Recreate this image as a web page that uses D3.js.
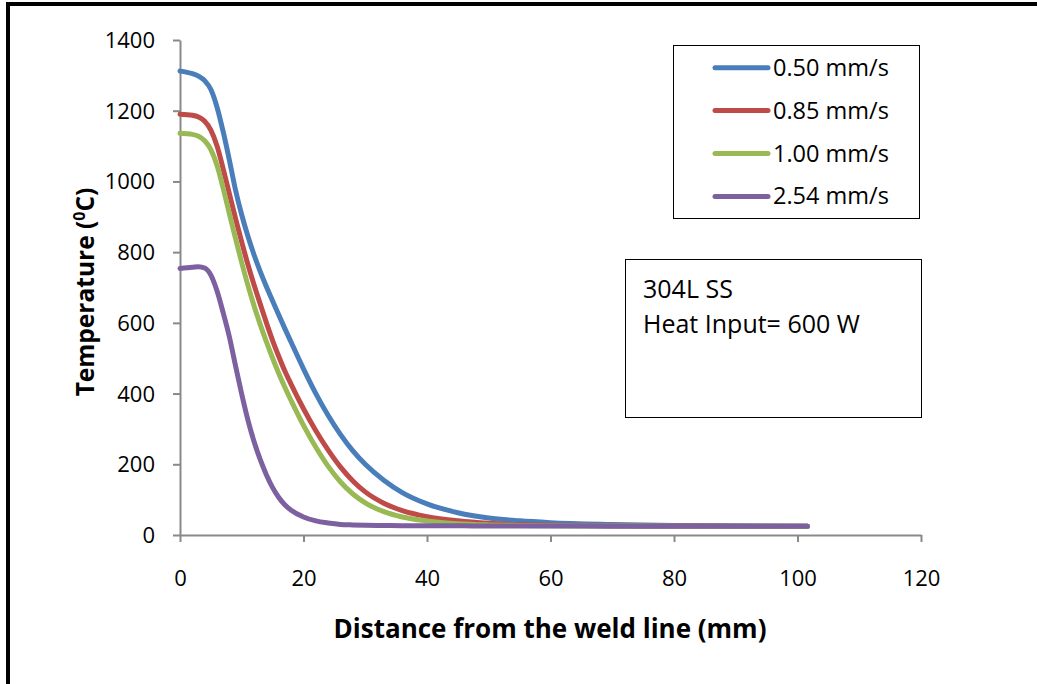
<!DOCTYPE html>
<html>
<head>
<meta charset="utf-8">
<script src="https://cdn.jsdelivr.net/npm/d3@7"></script>
<style>
  body { margin: 0; background: #fff; }
  text { font-family: "Open Sans", sans-serif; fill: #000; }
</style>
</head>
<body>
<div id="wrapper"></div>
<script>
// distance from weld line (mm)
const distance = [0, 2, 3, 4, 5, 6, 7, 8, 9, 10, 11, 12, 13, 14, 15, 16, 17, 18, 20, 22, 24, 26, 28, 30, 33, 36, 40, 45, 50, 55, 60, 70, 80, 90, 101.6]

// temperature (C) for each weld speed
const temp050 = [1312, 1305, 1298, 1285, 1260, 1210, 1140, 1060, 975, 905, 845, 792, 745, 702, 662, 622, 583, 545, 470, 400, 338, 284, 238, 200, 155, 120, 88, 63, 48, 40, 35, 30, 27, 26, 25]
const temp085 = [1190, 1187, 1182, 1170, 1145, 1100, 1035, 965, 895, 828, 765, 707, 653, 600, 550, 505, 463, 426, 357, 295, 240, 192, 153, 122, 90, 69, 52, 40, 33, 29.5, 28, 26, 25.5, 25, 25]
const temp100 = [1136, 1133, 1128, 1115, 1090, 1045, 980, 908, 838, 770, 706, 648, 595, 546, 500, 457, 417, 380, 310, 248, 194, 150, 116, 91, 66, 51, 40, 32, 28.5, 27, 26, 25.5, 25, 25, 25]
const temp254 = [754, 757, 759, 755, 735, 690, 628, 560, 478, 398, 325, 264, 213, 170, 134, 106, 85, 70, 51, 40, 34, 30, 28.5, 27.5, 27, 26.5, 26, 26, 25.5, 25.5, 25.5, 25, 25, 25, 25]

const seriesNames = ["0.50 mm/s", "0.85 mm/s", "1.00 mm/s", "2.54 mm/s"]
const seriesColors = ["#4a7ebb", "#be4b48", "#98b954", "#7d60a0"]
const xTicks = [0, 20, 40, 60, 80, 100, 120]
const yTicks = [0, 200, 400, 600, 800, 1000, 1200, 1400]
const noteLines = ["304L SS", "Heat Input= 600 W"]

const allTemps = [temp050, temp085, temp100, temp254]

let dimensions = {
  width: 1037,
  height: 684,
  margin: { top: 40, right: 116, bottom: 149, left: 180 }
}
dimensions.boundedWidth = dimensions.width - dimensions.margin.left - dimensions.margin.right
dimensions.boundedHeight = dimensions.height - dimensions.margin.top - dimensions.margin.bottom

const wrapper = d3.select('#wrapper')
  .append('svg')
  .attr('width', dimensions.width)
  .attr('height', dimensions.height)

wrapper.append('rect')
  .attr('width', dimensions.width)
  .attr('height', dimensions.height)
  .attr('fill', '#fff')

// outer frame (only top and left edges visible)
wrapper.append('rect')
  .attr('x', 8).attr('y', 4)
  .attr('width', 1060).attr('height', 720)
  .attr('fill', 'none')
  .attr('stroke', '#000')
  .attr('stroke-width', 4)

const bounds = wrapper.append('g')
  .attr('transform', `translate(${dimensions.margin.left},${dimensions.margin.top})`)

const xScale = d3.scaleLinear()
  .domain([0, 120])
  .range([0, dimensions.boundedWidth])
const yScale = d3.scaleLinear()
  .domain([0, 1400])
  .range([dimensions.boundedHeight, 0])

const xAxis = bounds.append('g')
  .attr('transform', `translate(0,${dimensions.boundedHeight})`)
  .call(d3.axisBottom(xScale).tickValues(xTicks).tickFormat(d3.format('d')).tickSize(7).tickSizeOuter(0).tickPadding(28))
const yAxis = bounds.append('g')
  .call(d3.axisLeft(yScale).tickValues(yTicks).tickFormat(d3.format('d')).tickSize(7).tickSizeOuter(0).tickPadding(18))

;[xAxis, yAxis].forEach(ax => {
  ax.select('.domain').attr('stroke', '#898989').attr('stroke-width', 2)
  ax.selectAll('.tick line').attr('stroke', '#898989').attr('stroke-width', 2)
  ax.selectAll('.tick text')
    .style('font-family', '"Open Sans", sans-serif')
    .attr('font-size', 22)
    .attr('fill', '#000')
})
yAxis.selectAll('.tick text').attr('dy', '0.34em')

// lines
const lineGen = d3.line()
  .x((d, i) => xScale(distance[i]))
  .y(d => yScale(d))
  .curve(d3.curveMonotoneX)

bounds.selectAll('.series')
  .data(allTemps)
  .enter()
  .append('path')
  .attr('class', 'series')
  .attr('d', d => lineGen(d))
  .attr('fill', 'none')
  .attr('stroke', (d, i) => seriesColors[i])
  .attr('stroke-width', 5)
  .attr('stroke-linejoin', 'round')
  .attr('stroke-linecap', 'round')

// axis titles
wrapper.append('text')
  .attr('x', 550)
  .attr('y', 638)
  .attr('text-anchor', 'middle')
  .attr('font-size', 26)
  .attr('font-weight', 'bold')
  .text('Distance from the weld line (mm)')

const yTitle = wrapper.append('text')
  .attr('transform', 'translate(94,292) rotate(-90)')
  .attr('text-anchor', 'middle')
  .attr('font-size', 24.5)
  .attr('font-weight', 'bold')
yTitle.append('tspan').text('Temperature (')
yTitle.append('tspan').attr('font-size', 16).attr('dy', -9).text('0')
yTitle.append('tspan').attr('dy', 9).text('C)')

// legend
const legend = wrapper.append('g')
legend.append('rect')
  .attr('x', 673.5).attr('y', 45.5)
  .attr('width', 246).attr('height', 173)
  .attr('fill', '#fff')
  .attr('stroke', '#000')
  .attr('stroke-width', 1)

const legendItems = legend.selectAll('.item')
  .data(seriesNames)
  .enter()
  .append('g')
  .attr('transform', (d, i) => `translate(715,${67.7 + i * 42.9})`)
legendItems.append('line')
  .attr('x1', 0).attr('x2', 53)
  .attr('stroke', (d, i) => seriesColors[i])
  .attr('stroke-width', 5)
  .attr('stroke-linecap', 'round')
legendItems.append('text')
  .attr('x', 58)
  .attr('y', 8)
  .attr('font-size', 23.5)
  .text(d => d)

// note box
const note = wrapper.append('g')
note.append('rect')
  .attr('x', 625.5).attr('y', 259.5)
  .attr('width', 296).attr('height', 158)
  .attr('fill', '#fff')
  .attr('stroke', '#000')
  .attr('stroke-width', 1)
note.selectAll('text')
  .data(noteLines)
  .enter()
  .append('text')
  .attr('x', 643)
  .attr('y', (d, i) => 298 + i * 35)
  .attr('font-size', 25)
  .text(d => d)
</script>
</body>
</html>
